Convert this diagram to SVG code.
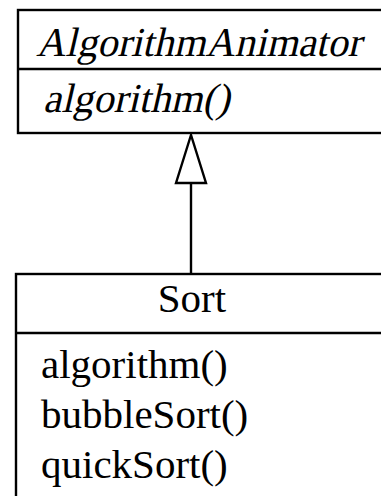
<svg xmlns="http://www.w3.org/2000/svg" width="381" height="496" viewBox="0 0 381 496">
<style>
.box{fill:#fff;stroke:#000;stroke-width:2.4}
.ln{stroke:#000;stroke-width:2.4;fill:none}
.t{font-family:"Liberation Serif","Times New Roman",serif;font-size:41px;fill:#000}
</style>
<rect width="381" height="496" fill="#fff"/>
<g id="connectors">
<line class="ln" x1="191" y1="183" x2="191" y2="274"/>
<polygon class="box" points="191,135 176,183 206,183"/>
</g>
<g id="AlgorithmAnimator">
<rect class="box" x="18" y="10" width="400" height="123"/>
<line class="ln" x1="18" y1="69" x2="418" y2="69"/>
<g transform="translate(36,56) skewX(-13)"><text class="t" x="0" y="0" textLength="325" lengthAdjust="spacingAndGlyphs">AlgorithmAnimator</text></g>
<g transform="translate(43,112) skewX(-13)"><text class="t" x="0" y="0">algorithm()</text></g>
</g>
<g id="Sort">
<rect class="box" x="16" y="274" width="400" height="300"/>
<line class="ln" x1="16" y1="333" x2="416" y2="333"/>
<text class="t" x="192" y="312" text-anchor="middle">Sort</text>
<text class="t" x="41" y="378">algorithm()</text>
<text class="t" x="41" y="428">bubbleSort()</text>
<text class="t" x="41" y="478">quickSort()</text>
</g>
</svg>
